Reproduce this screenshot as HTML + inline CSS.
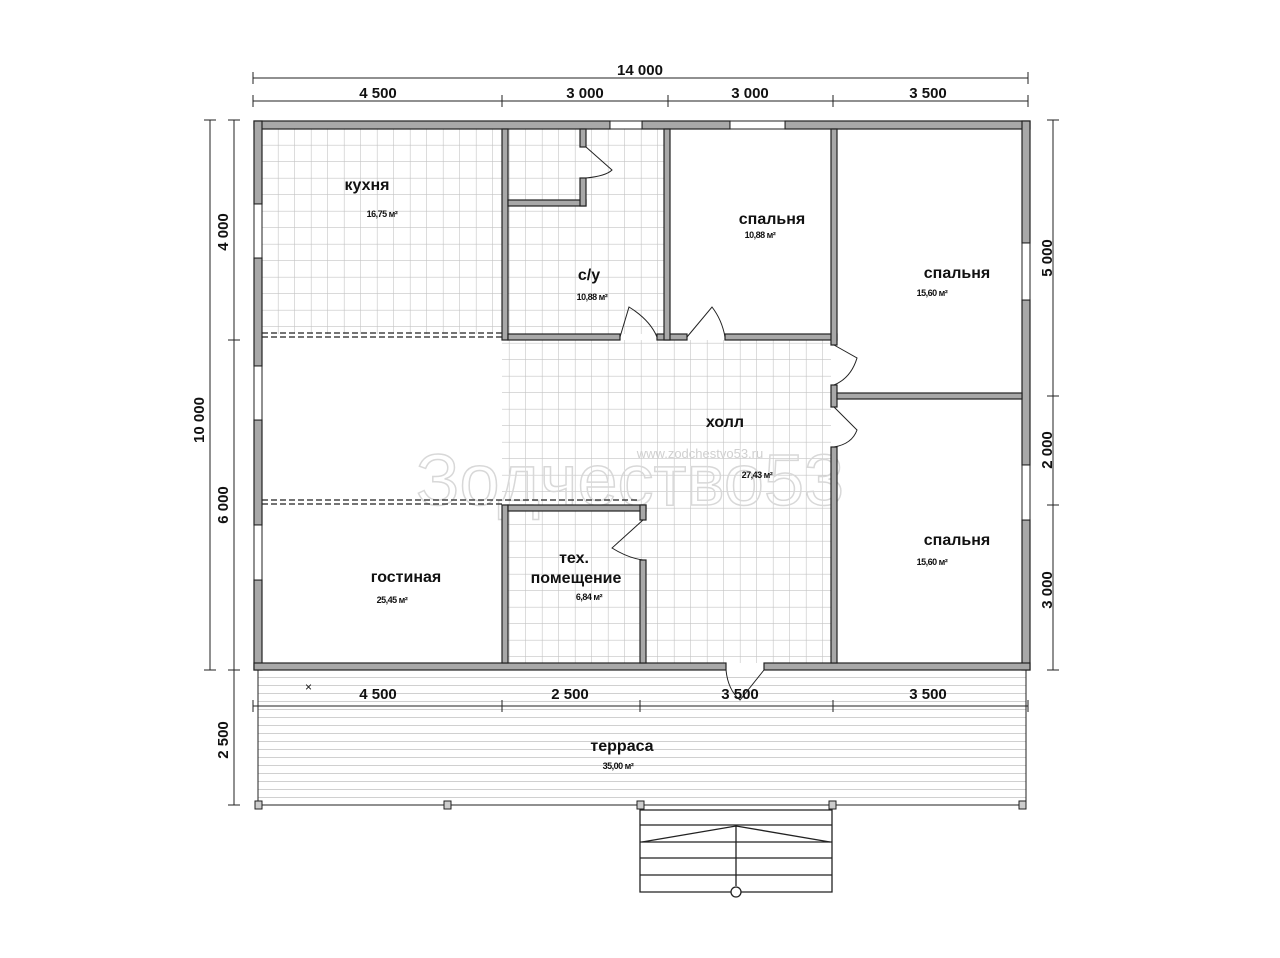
<!DOCTYPE html>
<html><head><meta charset="utf-8"><style>
html,body{margin:0;padding:0;background:#fff}
svg{display:block}
text{font-family:"Liberation Sans",sans-serif;fill:#111}
.dim{font-size:15px;font-weight:bold}
.lab{font-size:16px;font-weight:bold}
.ar{font-size:9px;font-weight:bold;letter-spacing:-0.5px}
</style></head><body>
<svg width="1280" height="958" viewBox="0 0 1280 958" xmlns="http://www.w3.org/2000/svg">
<defs>
<pattern id="g" x="262" y="129" width="16.5" height="16.5" patternUnits="userSpaceOnUse">
<path d="M16.5 0V16.5H0" fill="none" stroke="#c4c4c4" stroke-width="1.2"/>
</pattern>
<pattern id="b" x="0" y="670" width="10" height="8" patternUnits="userSpaceOnUse">
<path d="M0 7.5H10" stroke="#d0d0d0" stroke-width="1"/>
</pattern>
</defs>
<!-- tiled floors -->
<rect x="262" y="129" width="240" height="205" fill="url(#g)"/>
<rect x="508" y="129" width="156" height="205" fill="url(#g)"/>
<rect x="502" y="340" width="329" height="323" fill="url(#g)"/>
<!-- terrace boards -->
<rect x="258" y="672" width="768" height="131" fill="url(#b)"/>
<!-- watermark -->
<text x="630" y="505" font-size="72" text-anchor="middle" style="fill:none;stroke:#d8d8d8;stroke-width:1.5;font-family:'Liberation Sans',sans-serif">Зодчество53</text>
<text x="700" y="458" font-size="13" text-anchor="middle" style="fill:#d0d0d0">www.zodchestvo53.ru</text>
<g fill="#a8a8a8" stroke="#222" stroke-width="1.2">
<!-- outer walls -->
<rect x="254" y="121" width="356" height="8"/>
<rect x="642" y="121" width="88" height="8"/>
<rect x="785" y="121" width="245" height="8"/>
<rect x="254" y="121" width="8" height="83"/>
<rect x="254" y="258" width="8" height="108"/>
<rect x="254" y="420" width="8" height="105"/>
<rect x="254" y="580" width="8" height="90"/>
<rect x="1022" y="121" width="8" height="122"/>
<rect x="1022" y="300" width="8" height="165"/>
<rect x="1022" y="520" width="8" height="150"/>
<rect x="254" y="663" width="472" height="7"/>
<rect x="764" y="663" width="266" height="7"/>
<!-- interior -->
<rect x="502" y="129" width="6" height="211"/>
<rect x="508" y="200" width="78" height="6"/>
<rect x="580" y="178" width="6" height="28"/>
<rect x="580" y="129" width="6" height="18"/>
<rect x="508" y="334" width="112" height="6"/>
<rect x="657" y="334" width="30" height="6"/>
<rect x="725" y="334" width="112" height="6"/>
<rect x="664" y="129" width="6" height="211"/>
<rect x="831" y="129" width="6" height="216"/>
<rect x="831" y="385" width="6" height="22"/>
<rect x="831" y="447" width="6" height="216"/>
<rect x="837" y="393" width="185" height="6"/>
<rect x="502" y="505" width="6" height="158"/>
<rect x="508" y="505" width="138" height="6"/>
<rect x="640" y="505" width="6" height="15"/>
<rect x="640" y="560" width="6" height="103"/>
</g>
<!-- windows -->
<g fill="#fff" stroke="#222" stroke-width="1">
<rect x="610" y="121" width="32" height="8"/><rect x="730" y="121" width="55" height="8"/>
<rect x="254" y="204" width="8" height="54"/><rect x="254" y="366" width="8" height="54"/>
<rect x="254" y="525" width="8" height="55"/><rect x="1022" y="243" width="8" height="57"/>
<rect x="1022" y="465" width="8" height="55"/>
</g>
<!-- dashed lines -->
<g stroke="#222" stroke-width="1.2" stroke-dasharray="6,3">
<path d="M262 333H502M262 337H502M262 500H640M262 504H502"/>
</g>
<!-- doors -->
<g fill="none" stroke="#222" stroke-width="1">
<path d="M586 147L612 170Q606 176 586 178"/>
<path d="M620 337L629 307Q650 320 657 337"/>
<path d="M687 337L712 307Q722 320 725 337"/>
<path d="M834 345L857 358Q851 378 834 385"/>
<path d="M834 407L857 430Q852 444 834 447"/>
<path d="M643 520L612 548Q628 558 643 560"/>
<path d="M726 670Q728 690 740 700L764 670"/>
</g>
<!-- dimension lines -->
<g stroke="#222" stroke-width="1" fill="none">
<path d="M253 78H1028M253 72V84M1028 72V84"/>
<path d="M253 101H1028M253 95V107M502 95V107M668 95V107M833 95V107M1028 95V107"/>
<path d="M210 120V670M204 120H216M204 670H216"/>
<path d="M234 120V805M228 120H240M228 340H240M228 670H240M228 805H240"/>
<path d="M1053 120V670M1047 120H1059M1047 396H1059M1047 505H1059M1047 670H1059"/>
<path d="M253 706H1028M253 700V712M502 700V712M640 700V712M833 700V712M1028 700V712"/>
</g>
<text class="dim" x="640" y="75" text-anchor="middle">14 000</text>
<text class="dim" x="378" y="98" text-anchor="middle">4 500</text>
<text class="dim" x="585" y="98" text-anchor="middle">3 000</text>
<text class="dim" x="750" y="98" text-anchor="middle">3 000</text>
<text class="dim" x="928" y="98" text-anchor="middle">3 500</text>
<text class="dim" x="378" y="699" text-anchor="middle">4 500</text>
<text class="dim" x="570" y="699" text-anchor="middle">2 500</text>
<text class="dim" x="740" y="699" text-anchor="middle">3 500</text>
<text class="dim" x="928" y="699" text-anchor="middle">3 500</text>
<text class="dim" transform="translate(204,420) rotate(-90)" text-anchor="middle">10 000</text>
<text class="dim" transform="translate(228,232) rotate(-90)" text-anchor="middle">4 000</text>
<text class="dim" transform="translate(228,505) rotate(-90)" text-anchor="middle">6 000</text>
<text class="dim" transform="translate(228,740) rotate(-90)" text-anchor="middle">2 500</text>
<text class="dim" transform="translate(1052,258) rotate(-90)" text-anchor="middle">5 000</text>
<text class="dim" transform="translate(1052,450) rotate(-90)" text-anchor="middle">2 000</text>
<text class="dim" transform="translate(1052,590) rotate(-90)" text-anchor="middle">3 000</text>
<text x="305" y="691" font-size="12">×</text>
<!-- terrace edge & posts -->
<g stroke="#222" stroke-width="1" fill="#ccc">
<path d="M258 670V805M1026 670V805M258 805H1026" fill="none"/>
<rect x="255" y="801" width="7" height="8"/><rect x="444" y="801" width="7" height="8"/>
<rect x="637" y="801" width="7" height="8"/><rect x="829" y="801" width="7" height="8"/>
<rect x="1019" y="801" width="7" height="8"/>
</g>
<!-- stairs -->
<g stroke="#222" stroke-width="1.3" fill="none">
<path d="M640 809V892H832V809M640 810H832M640 825H832M640 842H832M640 858H832M640 875H832"/>
<path d="M736 826V886M642 842L736 826L830 842"/>
<circle cx="736" cy="892" r="5" fill="#fff"/>
</g>
<!-- labels -->
<text class="lab" x="367" y="190" text-anchor="middle">кухня</text>
<text class="ar" x="382" y="217" text-anchor="middle">16,75 м²</text>
<text class="lab" x="589" y="280" text-anchor="middle">с/у</text>
<text class="ar" x="592" y="300" text-anchor="middle">10,88 м²</text>
<text class="lab" x="772" y="224" text-anchor="middle">спальня</text>
<text class="ar" x="760" y="238" text-anchor="middle">10,88 м²</text>
<text class="lab" x="957" y="278" text-anchor="middle">спальня</text>
<text class="ar" x="932" y="296" text-anchor="middle">15,60 м²</text>
<text class="lab" x="725" y="427" text-anchor="middle">холл</text>
<text class="ar" x="757" y="478" text-anchor="middle">27,43 м²</text>
<text class="lab" x="957" y="545" text-anchor="middle">спальня</text>
<text class="ar" x="932" y="565" text-anchor="middle">15,60 м²</text>
<text class="lab" x="406" y="582" text-anchor="middle">гостиная</text>
<text class="ar" x="392" y="603" text-anchor="middle">25,45 м²</text>
<text class="lab" x="574" y="563" text-anchor="middle">тех.</text>
<text class="lab" x="576" y="583" text-anchor="middle">помещение</text>
<text class="ar" x="589" y="600" text-anchor="middle">6,84 м²</text>
<text class="lab" x="622" y="751" text-anchor="middle">терраса</text>
<text class="ar" x="618" y="769" text-anchor="middle">35,00 м²</text>
</svg>
</body></html>
